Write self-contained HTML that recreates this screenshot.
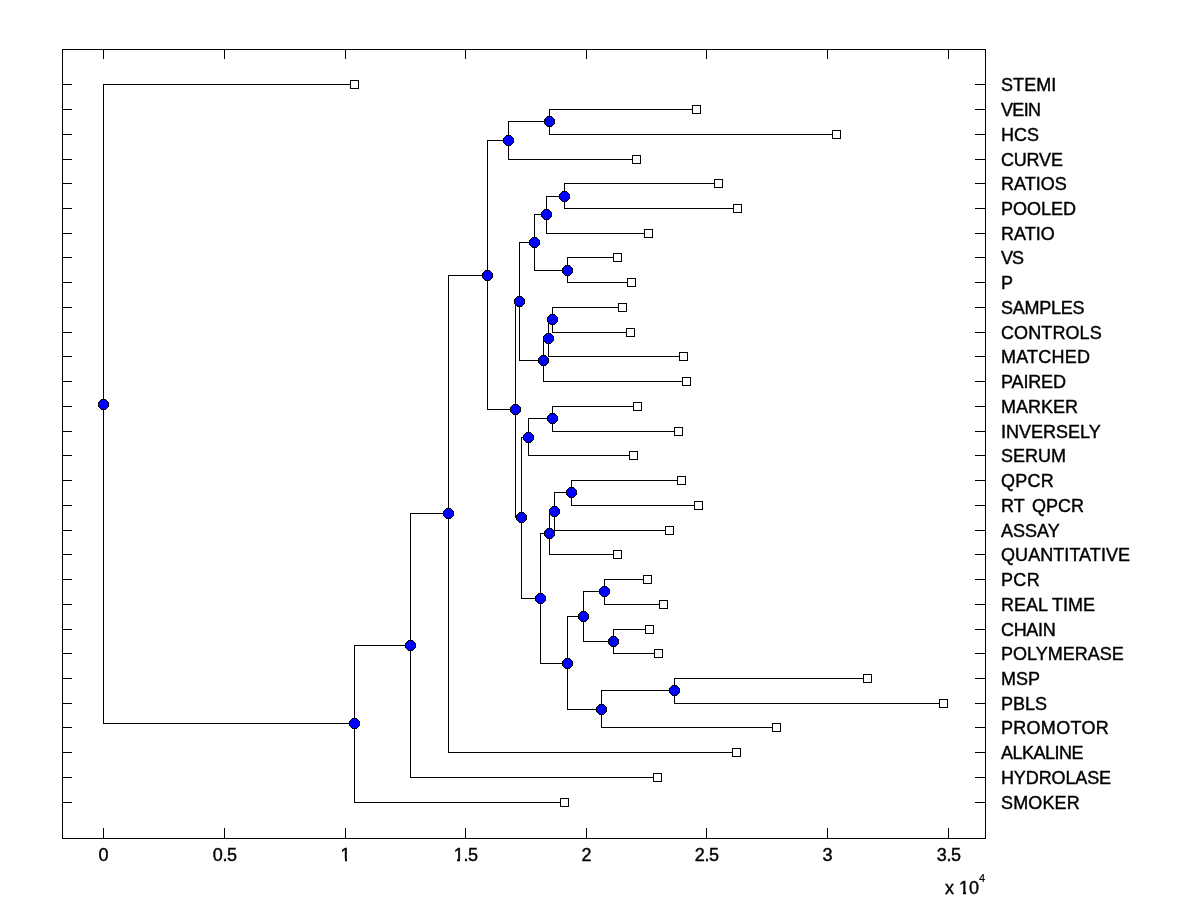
<!DOCTYPE html>
<html><head><meta charset="utf-8"><title>Dendrogram</title>
<style>
html,body{margin:0;padding:0;background:#fff;}
svg{display:block;}
text{font-family:"Liberation Sans",Arial,Helvetica,sans-serif;font-size:18px;fill:#000;stroke:#000;stroke-width:0.4px;}
</style></head><body>
<svg width="1200" height="900" viewBox="0 0 1200 900">
<rect width="1200" height="900" fill="#fff"/>
<g fill="#000" shape-rendering="crispEdges">
<rect x="62" y="49" width="924" height="1"/>
<rect x="62" y="838" width="924" height="1"/>
<rect x="62" y="49" width="1" height="790"/>
<rect x="985" y="49" width="1" height="790"/>
<rect x="103" y="49" width="1" height="10"/>
<rect x="103" y="828" width="1" height="11"/>
<rect x="224" y="49" width="1" height="10"/>
<rect x="224" y="828" width="1" height="11"/>
<rect x="345" y="49" width="1" height="10"/>
<rect x="345" y="828" width="1" height="11"/>
<rect x="465" y="49" width="1" height="10"/>
<rect x="465" y="828" width="1" height="11"/>
<rect x="586" y="49" width="1" height="10"/>
<rect x="586" y="828" width="1" height="11"/>
<rect x="706" y="49" width="1" height="10"/>
<rect x="706" y="828" width="1" height="11"/>
<rect x="827" y="49" width="1" height="10"/>
<rect x="827" y="828" width="1" height="11"/>
<rect x="948" y="49" width="1" height="10"/>
<rect x="948" y="828" width="1" height="11"/>
<rect x="62" y="84" width="10" height="1"/>
<rect x="975" y="84" width="11" height="1"/>
<rect x="62" y="109" width="10" height="1"/>
<rect x="975" y="109" width="11" height="1"/>
<rect x="62" y="134" width="10" height="1"/>
<rect x="975" y="134" width="11" height="1"/>
<rect x="62" y="159" width="10" height="1"/>
<rect x="975" y="159" width="11" height="1"/>
<rect x="62" y="183" width="10" height="1"/>
<rect x="975" y="183" width="11" height="1"/>
<rect x="62" y="208" width="10" height="1"/>
<rect x="975" y="208" width="11" height="1"/>
<rect x="62" y="233" width="10" height="1"/>
<rect x="975" y="233" width="11" height="1"/>
<rect x="62" y="257" width="10" height="1"/>
<rect x="975" y="257" width="11" height="1"/>
<rect x="62" y="282" width="10" height="1"/>
<rect x="975" y="282" width="11" height="1"/>
<rect x="62" y="307" width="10" height="1"/>
<rect x="975" y="307" width="11" height="1"/>
<rect x="62" y="332" width="10" height="1"/>
<rect x="975" y="332" width="11" height="1"/>
<rect x="62" y="356" width="10" height="1"/>
<rect x="975" y="356" width="11" height="1"/>
<rect x="62" y="381" width="10" height="1"/>
<rect x="975" y="381" width="11" height="1"/>
<rect x="62" y="406" width="10" height="1"/>
<rect x="975" y="406" width="11" height="1"/>
<rect x="62" y="431" width="10" height="1"/>
<rect x="975" y="431" width="11" height="1"/>
<rect x="62" y="455" width="10" height="1"/>
<rect x="975" y="455" width="11" height="1"/>
<rect x="62" y="480" width="10" height="1"/>
<rect x="975" y="480" width="11" height="1"/>
<rect x="62" y="505" width="10" height="1"/>
<rect x="975" y="505" width="11" height="1"/>
<rect x="62" y="530" width="10" height="1"/>
<rect x="975" y="530" width="11" height="1"/>
<rect x="62" y="554" width="10" height="1"/>
<rect x="975" y="554" width="11" height="1"/>
<rect x="62" y="579" width="10" height="1"/>
<rect x="975" y="579" width="11" height="1"/>
<rect x="62" y="604" width="10" height="1"/>
<rect x="975" y="604" width="11" height="1"/>
<rect x="62" y="629" width="10" height="1"/>
<rect x="975" y="629" width="11" height="1"/>
<rect x="62" y="653" width="10" height="1"/>
<rect x="975" y="653" width="11" height="1"/>
<rect x="62" y="678" width="10" height="1"/>
<rect x="975" y="678" width="11" height="1"/>
<rect x="62" y="703" width="10" height="1"/>
<rect x="975" y="703" width="11" height="1"/>
<rect x="62" y="727" width="10" height="1"/>
<rect x="975" y="727" width="11" height="1"/>
<rect x="62" y="752" width="10" height="1"/>
<rect x="975" y="752" width="11" height="1"/>
<rect x="62" y="777" width="10" height="1"/>
<rect x="975" y="777" width="11" height="1"/>
<rect x="62" y="802" width="10" height="1"/>
<rect x="975" y="802" width="11" height="1"/>
<rect x="103" y="84" width="1" height="640"/>
<rect x="103" y="84" width="252" height="1"/>
<rect x="103" y="723" width="252" height="1"/>
<rect x="354" y="645" width="1" height="158"/>
<rect x="354" y="645" width="57" height="1"/>
<rect x="354" y="802" width="211" height="1"/>
<rect x="410" y="513" width="1" height="265"/>
<rect x="410" y="513" width="39" height="1"/>
<rect x="410" y="777" width="248" height="1"/>
<rect x="448" y="275" width="1" height="478"/>
<rect x="448" y="275" width="40" height="1"/>
<rect x="448" y="752" width="289" height="1"/>
<rect x="487" y="140" width="1" height="270"/>
<rect x="487" y="140" width="22" height="1"/>
<rect x="487" y="409" width="29" height="1"/>
<rect x="508" y="121" width="1" height="39"/>
<rect x="508" y="121" width="42" height="1"/>
<rect x="508" y="159" width="129" height="1"/>
<rect x="549" y="109" width="1" height="26"/>
<rect x="549" y="109" width="148" height="1"/>
<rect x="549" y="134" width="288" height="1"/>
<rect x="515" y="301" width="1" height="217"/>
<rect x="515" y="301" width="5" height="1"/>
<rect x="515" y="517" width="7" height="1"/>
<rect x="519" y="242" width="1" height="119"/>
<rect x="519" y="242" width="16" height="1"/>
<rect x="519" y="360" width="25" height="1"/>
<rect x="534" y="214" width="1" height="57"/>
<rect x="534" y="214" width="13" height="1"/>
<rect x="534" y="270" width="34" height="1"/>
<rect x="546" y="196" width="1" height="38"/>
<rect x="546" y="196" width="19" height="1"/>
<rect x="546" y="233" width="103" height="1"/>
<rect x="564" y="183" width="1" height="26"/>
<rect x="564" y="183" width="155" height="1"/>
<rect x="564" y="208" width="174" height="1"/>
<rect x="567" y="257" width="1" height="26"/>
<rect x="567" y="257" width="51" height="1"/>
<rect x="567" y="282" width="65" height="1"/>
<rect x="543" y="338" width="1" height="44"/>
<rect x="543" y="338" width="6" height="1"/>
<rect x="543" y="381" width="144" height="1"/>
<rect x="548" y="319" width="1" height="38"/>
<rect x="548" y="319" width="5" height="1"/>
<rect x="548" y="356" width="136" height="1"/>
<rect x="552" y="307" width="1" height="26"/>
<rect x="552" y="307" width="71" height="1"/>
<rect x="552" y="332" width="79" height="1"/>
<rect x="521" y="437" width="1" height="162"/>
<rect x="521" y="437" width="8" height="1"/>
<rect x="521" y="598" width="20" height="1"/>
<rect x="528" y="418" width="1" height="38"/>
<rect x="528" y="418" width="25" height="1"/>
<rect x="528" y="455" width="106" height="1"/>
<rect x="552" y="406" width="1" height="26"/>
<rect x="552" y="406" width="86" height="1"/>
<rect x="552" y="431" width="127" height="1"/>
<rect x="540" y="533" width="1" height="131"/>
<rect x="540" y="533" width="10" height="1"/>
<rect x="540" y="663" width="28" height="1"/>
<rect x="549" y="511" width="1" height="44"/>
<rect x="549" y="511" width="6" height="1"/>
<rect x="549" y="554" width="69" height="1"/>
<rect x="554" y="492" width="1" height="39"/>
<rect x="554" y="492" width="18" height="1"/>
<rect x="554" y="530" width="116" height="1"/>
<rect x="571" y="480" width="1" height="26"/>
<rect x="571" y="480" width="111" height="1"/>
<rect x="571" y="505" width="128" height="1"/>
<rect x="567" y="616" width="1" height="94"/>
<rect x="567" y="616" width="17" height="1"/>
<rect x="567" y="709" width="35" height="1"/>
<rect x="583" y="591" width="1" height="51"/>
<rect x="583" y="591" width="22" height="1"/>
<rect x="583" y="641" width="31" height="1"/>
<rect x="604" y="579" width="1" height="26"/>
<rect x="604" y="579" width="44" height="1"/>
<rect x="604" y="604" width="60" height="1"/>
<rect x="613" y="629" width="1" height="25"/>
<rect x="613" y="629" width="37" height="1"/>
<rect x="613" y="653" width="46" height="1"/>
<rect x="601" y="690" width="1" height="38"/>
<rect x="601" y="690" width="74" height="1"/>
<rect x="601" y="727" width="176" height="1"/>
<rect x="674" y="678" width="1" height="26"/>
<rect x="674" y="678" width="194" height="1"/>
<rect x="674" y="703" width="270" height="1"/>
</g>
<g shape-rendering="crispEdges">
<rect x="350" y="80" width="9" height="9" fill="#000"/><rect x="351" y="81" width="7" height="7" fill="#fff"/>
<rect x="692" y="105" width="9" height="9" fill="#000"/><rect x="693" y="106" width="7" height="7" fill="#fff"/>
<rect x="832" y="130" width="9" height="9" fill="#000"/><rect x="833" y="131" width="7" height="7" fill="#fff"/>
<rect x="632" y="155" width="9" height="9" fill="#000"/><rect x="633" y="156" width="7" height="7" fill="#fff"/>
<rect x="714" y="179" width="9" height="9" fill="#000"/><rect x="715" y="180" width="7" height="7" fill="#fff"/>
<rect x="733" y="204" width="9" height="9" fill="#000"/><rect x="734" y="205" width="7" height="7" fill="#fff"/>
<rect x="644" y="229" width="9" height="9" fill="#000"/><rect x="645" y="230" width="7" height="7" fill="#fff"/>
<rect x="613" y="253" width="9" height="9" fill="#000"/><rect x="614" y="254" width="7" height="7" fill="#fff"/>
<rect x="627" y="278" width="9" height="9" fill="#000"/><rect x="628" y="279" width="7" height="7" fill="#fff"/>
<rect x="618" y="303" width="9" height="9" fill="#000"/><rect x="619" y="304" width="7" height="7" fill="#fff"/>
<rect x="626" y="328" width="9" height="9" fill="#000"/><rect x="627" y="329" width="7" height="7" fill="#fff"/>
<rect x="679" y="352" width="9" height="9" fill="#000"/><rect x="680" y="353" width="7" height="7" fill="#fff"/>
<rect x="682" y="377" width="9" height="9" fill="#000"/><rect x="683" y="378" width="7" height="7" fill="#fff"/>
<rect x="633" y="402" width="9" height="9" fill="#000"/><rect x="634" y="403" width="7" height="7" fill="#fff"/>
<rect x="674" y="427" width="9" height="9" fill="#000"/><rect x="675" y="428" width="7" height="7" fill="#fff"/>
<rect x="629" y="451" width="9" height="9" fill="#000"/><rect x="630" y="452" width="7" height="7" fill="#fff"/>
<rect x="677" y="476" width="9" height="9" fill="#000"/><rect x="678" y="477" width="7" height="7" fill="#fff"/>
<rect x="694" y="501" width="9" height="9" fill="#000"/><rect x="695" y="502" width="7" height="7" fill="#fff"/>
<rect x="665" y="526" width="9" height="9" fill="#000"/><rect x="666" y="527" width="7" height="7" fill="#fff"/>
<rect x="613" y="550" width="9" height="9" fill="#000"/><rect x="614" y="551" width="7" height="7" fill="#fff"/>
<rect x="643" y="575" width="9" height="9" fill="#000"/><rect x="644" y="576" width="7" height="7" fill="#fff"/>
<rect x="659" y="600" width="9" height="9" fill="#000"/><rect x="660" y="601" width="7" height="7" fill="#fff"/>
<rect x="645" y="625" width="9" height="9" fill="#000"/><rect x="646" y="626" width="7" height="7" fill="#fff"/>
<rect x="654" y="649" width="9" height="9" fill="#000"/><rect x="655" y="650" width="7" height="7" fill="#fff"/>
<rect x="863" y="674" width="9" height="9" fill="#000"/><rect x="864" y="675" width="7" height="7" fill="#fff"/>
<rect x="939" y="699" width="9" height="9" fill="#000"/><rect x="940" y="700" width="7" height="7" fill="#fff"/>
<rect x="772" y="723" width="9" height="9" fill="#000"/><rect x="773" y="724" width="7" height="7" fill="#fff"/>
<rect x="732" y="748" width="9" height="9" fill="#000"/><rect x="733" y="749" width="7" height="7" fill="#fff"/>
<rect x="653" y="773" width="9" height="9" fill="#000"/><rect x="654" y="774" width="7" height="7" fill="#fff"/>
<rect x="560" y="798" width="9" height="9" fill="#000"/><rect x="561" y="799" width="7" height="7" fill="#fff"/>
<g transform="translate(98,399)"><path fill="#000" d="M3 0h5v1h1v1h1v1h1v5h-1v1h-1v1h-1v1h-5v-1h-1v-1h-1v-1h-1v-5h1v-1h1v-1h1z"/><path fill="#00f" d="M3 1h5v1h1v1h1v5h-1v1h-1v1h-5v-1h-1v-1h-1v-5h1v-1h1z"/></g>
<g transform="translate(349,718)"><path fill="#000" d="M3 0h5v1h1v1h1v1h1v5h-1v1h-1v1h-1v1h-5v-1h-1v-1h-1v-1h-1v-5h1v-1h1v-1h1z"/><path fill="#00f" d="M3 1h5v1h1v1h1v5h-1v1h-1v1h-5v-1h-1v-1h-1v-5h1v-1h1z"/></g>
<g transform="translate(405,640)"><path fill="#000" d="M3 0h5v1h1v1h1v1h1v5h-1v1h-1v1h-1v1h-5v-1h-1v-1h-1v-1h-1v-5h1v-1h1v-1h1z"/><path fill="#00f" d="M3 1h5v1h1v1h1v5h-1v1h-1v1h-5v-1h-1v-1h-1v-5h1v-1h1z"/></g>
<g transform="translate(443,508)"><path fill="#000" d="M3 0h5v1h1v1h1v1h1v5h-1v1h-1v1h-1v1h-5v-1h-1v-1h-1v-1h-1v-5h1v-1h1v-1h1z"/><path fill="#00f" d="M3 1h5v1h1v1h1v5h-1v1h-1v1h-5v-1h-1v-1h-1v-5h1v-1h1z"/></g>
<g transform="translate(482,270)"><path fill="#000" d="M3 0h5v1h1v1h1v1h1v5h-1v1h-1v1h-1v1h-5v-1h-1v-1h-1v-1h-1v-5h1v-1h1v-1h1z"/><path fill="#00f" d="M3 1h5v1h1v1h1v5h-1v1h-1v1h-5v-1h-1v-1h-1v-5h1v-1h1z"/></g>
<g transform="translate(503,135)"><path fill="#000" d="M3 0h5v1h1v1h1v1h1v5h-1v1h-1v1h-1v1h-5v-1h-1v-1h-1v-1h-1v-5h1v-1h1v-1h1z"/><path fill="#00f" d="M3 1h5v1h1v1h1v5h-1v1h-1v1h-5v-1h-1v-1h-1v-5h1v-1h1z"/></g>
<g transform="translate(544,116)"><path fill="#000" d="M3 0h5v1h1v1h1v1h1v5h-1v1h-1v1h-1v1h-5v-1h-1v-1h-1v-1h-1v-5h1v-1h1v-1h1z"/><path fill="#00f" d="M3 1h5v1h1v1h1v5h-1v1h-1v1h-5v-1h-1v-1h-1v-5h1v-1h1z"/></g>
<g transform="translate(510,404)"><path fill="#000" d="M3 0h5v1h1v1h1v1h1v5h-1v1h-1v1h-1v1h-5v-1h-1v-1h-1v-1h-1v-5h1v-1h1v-1h1z"/><path fill="#00f" d="M3 1h5v1h1v1h1v5h-1v1h-1v1h-5v-1h-1v-1h-1v-5h1v-1h1z"/></g>
<g transform="translate(514,296)"><path fill="#000" d="M3 0h5v1h1v1h1v1h1v5h-1v1h-1v1h-1v1h-5v-1h-1v-1h-1v-1h-1v-5h1v-1h1v-1h1z"/><path fill="#00f" d="M3 1h5v1h1v1h1v5h-1v1h-1v1h-5v-1h-1v-1h-1v-5h1v-1h1z"/></g>
<g transform="translate(529,237)"><path fill="#000" d="M3 0h5v1h1v1h1v1h1v5h-1v1h-1v1h-1v1h-5v-1h-1v-1h-1v-1h-1v-5h1v-1h1v-1h1z"/><path fill="#00f" d="M3 1h5v1h1v1h1v5h-1v1h-1v1h-5v-1h-1v-1h-1v-5h1v-1h1z"/></g>
<g transform="translate(541,209)"><path fill="#000" d="M3 0h5v1h1v1h1v1h1v5h-1v1h-1v1h-1v1h-5v-1h-1v-1h-1v-1h-1v-5h1v-1h1v-1h1z"/><path fill="#00f" d="M3 1h5v1h1v1h1v5h-1v1h-1v1h-5v-1h-1v-1h-1v-5h1v-1h1z"/></g>
<g transform="translate(559,191)"><path fill="#000" d="M3 0h5v1h1v1h1v1h1v5h-1v1h-1v1h-1v1h-5v-1h-1v-1h-1v-1h-1v-5h1v-1h1v-1h1z"/><path fill="#00f" d="M3 1h5v1h1v1h1v5h-1v1h-1v1h-5v-1h-1v-1h-1v-5h1v-1h1z"/></g>
<g transform="translate(562,265)"><path fill="#000" d="M3 0h5v1h1v1h1v1h1v5h-1v1h-1v1h-1v1h-5v-1h-1v-1h-1v-1h-1v-5h1v-1h1v-1h1z"/><path fill="#00f" d="M3 1h5v1h1v1h1v5h-1v1h-1v1h-5v-1h-1v-1h-1v-5h1v-1h1z"/></g>
<g transform="translate(538,355)"><path fill="#000" d="M3 0h5v1h1v1h1v1h1v5h-1v1h-1v1h-1v1h-5v-1h-1v-1h-1v-1h-1v-5h1v-1h1v-1h1z"/><path fill="#00f" d="M3 1h5v1h1v1h1v5h-1v1h-1v1h-5v-1h-1v-1h-1v-5h1v-1h1z"/></g>
<g transform="translate(543,333)"><path fill="#000" d="M3 0h5v1h1v1h1v1h1v5h-1v1h-1v1h-1v1h-5v-1h-1v-1h-1v-1h-1v-5h1v-1h1v-1h1z"/><path fill="#00f" d="M3 1h5v1h1v1h1v5h-1v1h-1v1h-5v-1h-1v-1h-1v-5h1v-1h1z"/></g>
<g transform="translate(547,314)"><path fill="#000" d="M3 0h5v1h1v1h1v1h1v5h-1v1h-1v1h-1v1h-5v-1h-1v-1h-1v-1h-1v-5h1v-1h1v-1h1z"/><path fill="#00f" d="M3 1h5v1h1v1h1v5h-1v1h-1v1h-5v-1h-1v-1h-1v-5h1v-1h1z"/></g>
<g transform="translate(516,512)"><path fill="#000" d="M3 0h5v1h1v1h1v1h1v5h-1v1h-1v1h-1v1h-5v-1h-1v-1h-1v-1h-1v-5h1v-1h1v-1h1z"/><path fill="#00f" d="M3 1h5v1h1v1h1v5h-1v1h-1v1h-5v-1h-1v-1h-1v-5h1v-1h1z"/></g>
<g transform="translate(523,432)"><path fill="#000" d="M3 0h5v1h1v1h1v1h1v5h-1v1h-1v1h-1v1h-5v-1h-1v-1h-1v-1h-1v-5h1v-1h1v-1h1z"/><path fill="#00f" d="M3 1h5v1h1v1h1v5h-1v1h-1v1h-5v-1h-1v-1h-1v-5h1v-1h1z"/></g>
<g transform="translate(547,413)"><path fill="#000" d="M3 0h5v1h1v1h1v1h1v5h-1v1h-1v1h-1v1h-5v-1h-1v-1h-1v-1h-1v-5h1v-1h1v-1h1z"/><path fill="#00f" d="M3 1h5v1h1v1h1v5h-1v1h-1v1h-5v-1h-1v-1h-1v-5h1v-1h1z"/></g>
<g transform="translate(535,593)"><path fill="#000" d="M3 0h5v1h1v1h1v1h1v5h-1v1h-1v1h-1v1h-5v-1h-1v-1h-1v-1h-1v-5h1v-1h1v-1h1z"/><path fill="#00f" d="M3 1h5v1h1v1h1v5h-1v1h-1v1h-5v-1h-1v-1h-1v-5h1v-1h1z"/></g>
<g transform="translate(544,528)"><path fill="#000" d="M3 0h5v1h1v1h1v1h1v5h-1v1h-1v1h-1v1h-5v-1h-1v-1h-1v-1h-1v-5h1v-1h1v-1h1z"/><path fill="#00f" d="M3 1h5v1h1v1h1v5h-1v1h-1v1h-5v-1h-1v-1h-1v-5h1v-1h1z"/></g>
<g transform="translate(549,506)"><path fill="#000" d="M3 0h5v1h1v1h1v1h1v5h-1v1h-1v1h-1v1h-5v-1h-1v-1h-1v-1h-1v-5h1v-1h1v-1h1z"/><path fill="#00f" d="M3 1h5v1h1v1h1v5h-1v1h-1v1h-5v-1h-1v-1h-1v-5h1v-1h1z"/></g>
<g transform="translate(566,487)"><path fill="#000" d="M3 0h5v1h1v1h1v1h1v5h-1v1h-1v1h-1v1h-5v-1h-1v-1h-1v-1h-1v-5h1v-1h1v-1h1z"/><path fill="#00f" d="M3 1h5v1h1v1h1v5h-1v1h-1v1h-5v-1h-1v-1h-1v-5h1v-1h1z"/></g>
<g transform="translate(562,658)"><path fill="#000" d="M3 0h5v1h1v1h1v1h1v5h-1v1h-1v1h-1v1h-5v-1h-1v-1h-1v-1h-1v-5h1v-1h1v-1h1z"/><path fill="#00f" d="M3 1h5v1h1v1h1v5h-1v1h-1v1h-5v-1h-1v-1h-1v-5h1v-1h1z"/></g>
<g transform="translate(578,611)"><path fill="#000" d="M3 0h5v1h1v1h1v1h1v5h-1v1h-1v1h-1v1h-5v-1h-1v-1h-1v-1h-1v-5h1v-1h1v-1h1z"/><path fill="#00f" d="M3 1h5v1h1v1h1v5h-1v1h-1v1h-5v-1h-1v-1h-1v-5h1v-1h1z"/></g>
<g transform="translate(599,586)"><path fill="#000" d="M3 0h5v1h1v1h1v1h1v5h-1v1h-1v1h-1v1h-5v-1h-1v-1h-1v-1h-1v-5h1v-1h1v-1h1z"/><path fill="#00f" d="M3 1h5v1h1v1h1v5h-1v1h-1v1h-5v-1h-1v-1h-1v-5h1v-1h1z"/></g>
<g transform="translate(608,636)"><path fill="#000" d="M3 0h5v1h1v1h1v1h1v5h-1v1h-1v1h-1v1h-5v-1h-1v-1h-1v-1h-1v-5h1v-1h1v-1h1z"/><path fill="#00f" d="M3 1h5v1h1v1h1v5h-1v1h-1v1h-5v-1h-1v-1h-1v-5h1v-1h1z"/></g>
<g transform="translate(596,704)"><path fill="#000" d="M3 0h5v1h1v1h1v1h1v5h-1v1h-1v1h-1v1h-5v-1h-1v-1h-1v-1h-1v-5h1v-1h1v-1h1z"/><path fill="#00f" d="M3 1h5v1h1v1h1v5h-1v1h-1v1h-5v-1h-1v-1h-1v-5h1v-1h1z"/></g>
<g transform="translate(669,685)"><path fill="#000" d="M3 0h5v1h1v1h1v1h1v5h-1v1h-1v1h-1v1h-5v-1h-1v-1h-1v-1h-1v-5h1v-1h1v-1h1z"/><path fill="#00f" d="M3 1h5v1h1v1h1v5h-1v1h-1v1h-5v-1h-1v-1h-1v-5h1v-1h1z"/></g>
</g>
<g>
<text x="1001" y="91" style="letter-spacing:0.075px">STEMI</text>
<text x="1001" y="116" style="letter-spacing:-0.667px">VEIN</text>
<text x="1001" y="141">HCS</text>
<text x="1001" y="166" style="letter-spacing:-0.200px">CURVE</text>
<text x="1001" y="190">RATIOS</text>
<text x="1001" y="215">POOLED</text>
<text x="1001" y="240">RATIO</text>
<text x="1001" y="264" style="letter-spacing:-0.900px">VS</text>
<text x="1001" y="289">P</text>
<text x="1001" y="314" style="letter-spacing:-0.267px">SAMPLES</text>
<text x="1001" y="339" style="letter-spacing:0.100px">CONTROLS</text>
<text x="1001" y="363" style="letter-spacing:0.217px">MATCHED</text>
<text x="1001" y="388" style="letter-spacing:-0.140px">PAIRED</text>
<text x="1001" y="413">MARKER</text>
<text x="1001" y="438">INVERSELY</text>
<text x="1001" y="462">SERUM</text>
<text x="1001" y="487" style="letter-spacing:0.233px">QPCR</text>
<text x="1001" y="512" style="word-spacing:2.7px">RT QPCR</text>
<text x="1001" y="537">ASSAY</text>
<text x="1001" y="561" style="letter-spacing:0.064px">QUANTITATIVE</text>
<text x="1001" y="586" style="letter-spacing:0.350px">PCR</text>
<text x="1001" y="611">REAL TIME</text>
<text x="1001" y="636" style="letter-spacing:-0.325px">CHAIN</text>
<text x="1001" y="660">POLYMERASE</text>
<text x="1001" y="685">MSP</text>
<text x="1001" y="710">PBLS</text>
<text x="1001" y="734" style="letter-spacing:0.286px">PROMOTOR</text>
<text x="1001" y="759" style="letter-spacing:-0.514px">ALKALINE</text>
<text x="1001" y="784" style="letter-spacing:-0.125px">HYDROLASE</text>
<text x="1001" y="809" style="letter-spacing:0.140px">SMOKER</text>
<text x="103.5" y="861" text-anchor="middle">0</text>
<text x="224.7" y="861" text-anchor="middle" style="letter-spacing:-0.4px">0.5</text>
<text x="345.5" y="861" text-anchor="middle">1</text>
<text x="465.7" y="861" text-anchor="middle" style="letter-spacing:-0.4px">1.5</text>
<text x="586.5" y="861" text-anchor="middle">2</text>
<text x="706.7" y="861" text-anchor="middle" style="letter-spacing:-0.4px">2.5</text>
<text x="827.5" y="861" text-anchor="middle">3</text>
<text x="948.7" y="861" text-anchor="middle" style="letter-spacing:-0.4px">3.5</text>
<text x="945" y="894">x 10</text>
<text x="979" y="881.5" style="font-size:11px;stroke-width:0.2px">4</text>
</g>
<g fill="#fff" shape-rendering="crispEdges"><rect x="340" y="859" width="5" height="3"/><rect x="347" y="859" width="4" height="3"/><rect x="453" y="859" width="4" height="3"/><rect x="460" y="859" width="4" height="3"/><rect x="959" y="892" width="4" height="3"/><rect x="966" y="892" width="3" height="3"/></g>
</svg>
</body></html>
